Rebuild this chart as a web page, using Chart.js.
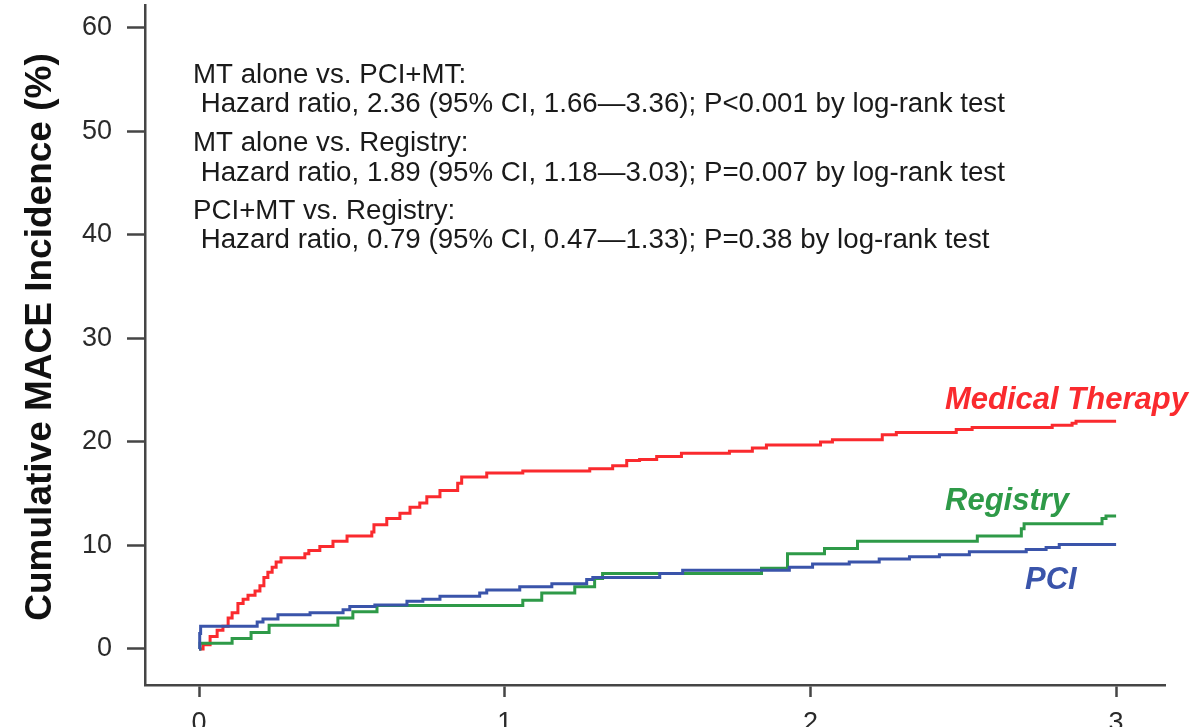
<!DOCTYPE html>
<html>
<head>
<meta charset="utf-8">
<script src="https://cdn.jsdelivr.net/npm/chart.js@4/dist/chart.umd.min.js"></script>
<style>
  html, body { margin: 0; padding: 0; background: #ffffff; }
  #wrap { width: 1193px; height: 727px; position: relative; }
</style>
</head>
<body>
<div id="wrap"><canvas id="c" width="1193" height="727"></canvas></div>
<script>
// ---- data (years of follow-up, cumulative MACE %) ----
const xTickValues = [0, 1, 2, 3];
const yTickValues = [0, 10, 20, 30, 40, 50, 60];

const mtTimes  = [0, 0.013, 0.036, 0.059, 0.078, 0.095, 0.108, 0.127, 0.144, 0.160, 0.183, 0.199, 0.212, 0.225, 0.239, 0.252, 0.268, 0.346, 0.359, 0.395, 0.438, 0.484, 0.565, 0.572, 0.614, 0.657, 0.690, 0.722, 0.745, 0.788, 0.846, 0.859, 0.941, 1.059, 1.278, 1.353, 1.399, 1.441, 1.497, 1.578, 1.735, 1.810, 1.856, 2.033, 2.072, 2.235, 2.281, 2.477, 2.529, 2.791, 2.856, 2.869, 3.0];
const mtValues = [0, 0.4, 1.2, 1.8, 2.2, 3.0, 3.5, 4.4, 4.8, 5.2, 5.6, 6.1, 6.9, 7.4, 7.9, 8.4, 8.8, 9.2, 9.5, 9.9, 10.4, 10.9, 11.3, 12.0, 12.6, 13.1, 13.7, 14.1, 14.7, 15.3, 16.0, 16.6, 17.0, 17.2, 17.4, 17.7, 18.2, 18.3, 18.6, 18.9, 19.1, 19.4, 19.7, 20.0, 20.2, 20.7, 20.9, 21.2, 21.4, 21.6, 21.8, 22.0, 22.0];

const regTimes  = [0, 0.003, 0.108, 0.170, 0.229, 0.454, 0.503, 0.582, 1.059, 1.121, 1.229, 1.294, 1.320, 1.840, 1.925, 2.046, 2.154, 2.546, 2.690, 2.699, 2.954, 2.967, 3.0];
const regValues = [0, 0.55, 1.0, 1.6, 2.3, 3.0, 3.6, 4.2, 4.7, 5.4, 6.0, 6.8, 7.3, 7.8, 9.2, 9.7, 10.4, 10.9, 11.6, 12.1, 12.6, 12.85, 12.85];

const pciTimes  = [0, 0.002, 0.005, 0.190, 0.209, 0.258, 0.363, 0.471, 0.493, 0.575, 0.680, 0.732, 0.788, 0.918, 0.941, 1.049, 1.154, 1.268, 1.288, 1.507, 1.582, 1.931, 2.007, 2.127, 2.225, 2.324, 2.422, 2.520, 2.706, 2.771, 2.814, 3.0];
const pciValues = [0, 1.5, 2.2, 2.6, 2.9, 3.3, 3.5, 3.8, 4.1, 4.25, 4.6, 4.8, 5.1, 5.4, 5.7, 6.0, 6.3, 6.7, 6.9, 7.3, 7.6, 7.9, 8.2, 8.4, 8.7, 8.9, 9.1, 9.4, 9.6, 9.8, 10.1, 10.1];

const seriesNames = ['Medical Therapy', 'Registry', 'PCI'];
const yAxisTitle = 'Cumulative MACE Incidence (%)';
const statLines = [
  'MT alone vs. PCI+MT:',
  ' Hazard ratio, 2.36 (95% CI, 1.66\u20143.36); P<0.001 by log-rank test',
  'MT alone vs. Registry:',
  ' Hazard ratio, 1.89 (95% CI, 1.18\u20143.03); P=0.007 by log-rank test',
  'PCI+MT vs. Registry:',
  ' Hazard ratio, 0.79 (95% CI, 0.47\u20141.33); P=0.38 by log-rank test'
];

// ---- styles ----
const RED = '#fa2a2e', GREEN = '#2e9a48', BLUE = '#3a54aa';
const AXIS = '#454545';
const FONT = '"Liberation Sans", Arial, Helvetica, sans-serif';

const toXY = (ts, vs) => ts.map((t, i) => ({ x: t, y: vs[i] }));

const textPlugin = {
  id: 'texts',
  afterDraw(chart) {
    const ctx = chart.ctx;
    ctx.save();
    // y-axis title
    ctx.save();
    ctx.translate(41, 337);
    ctx.rotate(-Math.PI / 2);
    ctx.font = 'bold 37px ' + FONT;
    ctx.fillStyle = '#111';
    ctx.textAlign = 'center';
    ctx.textBaseline = 'middle';
    ctx.fillText(yAxisTitle, 0, 0);
    ctx.restore();

    // statistics block
    ctx.font = '27.7px ' + FONT;
    ctx.fillStyle = '#1a1a1a';
    ctx.textAlign = 'left';
    ctx.textBaseline = 'middle';
    const ys = [75, 104, 143, 173, 211, 240];
    statLines.forEach((s, i) => {
      ctx.fillText(s, 193, ys[i]);
    });

    // series labels
    ctx.font = 'italic bold 31px ' + FONT;
    ctx.textBaseline = 'alphabetic';
    ctx.fillStyle = RED;   ctx.fillText(seriesNames[0], 945, 409);
    ctx.fillStyle = GREEN; ctx.fillText(seriesNames[1], 945, 510);
    ctx.fillStyle = BLUE;  ctx.fillText(seriesNames[2], 1025, 589);
    ctx.restore();
  }
};

new Chart(document.getElementById('c'), {
  type: 'line',
  data: {
    datasets: [
      { label: seriesNames[2], data: toXY(pciTimes, pciValues), borderColor: BLUE },
      { label: seriesNames[1], data: toXY(regTimes, regValues), borderColor: GREEN },
      { label: seriesNames[0], data: toXY(mtTimes, mtValues), borderColor: RED }
    ].map(d => Object.assign(d, { stepped: true, borderWidth: 3, pointRadius: 0, fill: false, tension: 0 }))
  },
  options: {
    responsive: false,
    animation: false,
    events: [],
    layout: { padding: { top: 5, right: 28, left: 0, bottom: 0 } },
    plugins: { legend: { display: false }, tooltip: { enabled: false } },
    scales: {
      x: {
        type: 'linear',
        min: -0.177, max: 3.16,
        afterBuildTicks: s => { s.ticks = xTickValues.map(v => ({ value: v })); },
        afterFit: s => { s.height = 42; s.paddingLeft = 0; s.paddingRight = 0; },
        grid: { drawOnChartArea: false, drawTicks: true, tickLength: 12, tickWidth: 2.5, tickColor: AXIS },
        border: { display: true, color: AXIS, width: 2.5 },
        ticks: { padding: 10, color: '#2a2a2a', font: { family: FONT, size: 27 }, maxRotation: 0, autoSkip: false }
      },
      y: {
        type: 'linear',
        min: -3.48, max: 62.2,
        afterBuildTicks: s => { s.ticks = yTickValues.map(v => ({ value: v })); },
        afterFit: s => { s.width = 145; s.paddingTop = 0; s.paddingBottom = 0; },
        grid: { drawOnChartArea: false, drawTicks: true, tickLength: 18, tickWidth: 2.5, tickColor: AXIS },
        border: { display: true, color: AXIS, width: 2.5 },
        ticks: { padding: 15, color: '#2a2a2a', font: { family: FONT, size: 27 }, autoSkip: false }
      }
    }
  },
  plugins: [textPlugin]
});
</script>
</body>
</html>
